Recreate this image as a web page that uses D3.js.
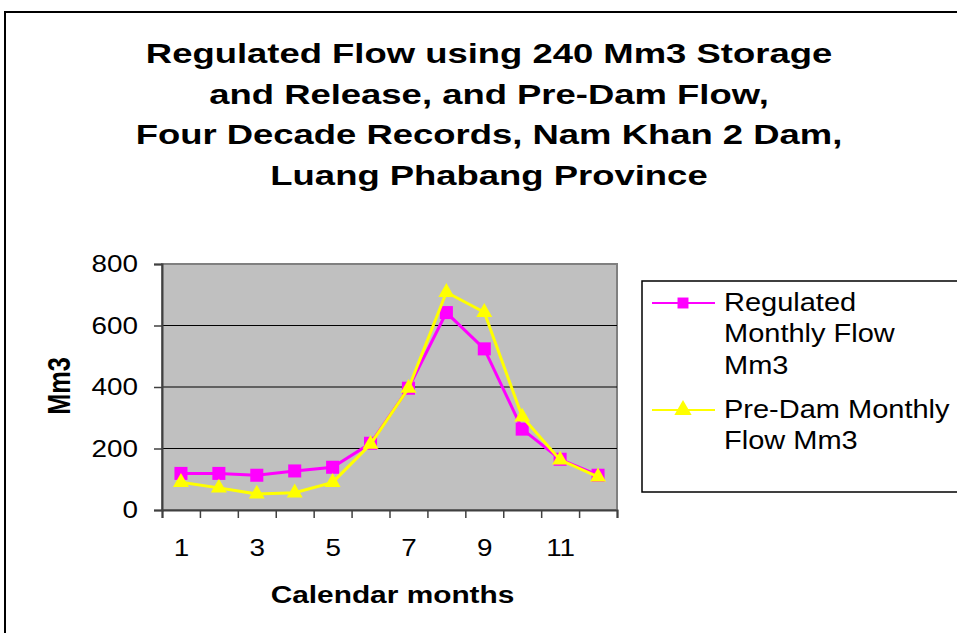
<!DOCTYPE html>
<html>
<head>
<meta charset="utf-8">
<script src="https://cdn.jsdelivr.net/npm/d3@7"></script>
<style>
  body { margin: 0; background: #fff; }
  svg { display: block; font-family: "Liberation Sans", Arial, sans-serif; }
</style>
</head>
<body>
<div class="visContainer"></div>
<script>
// Chart data.
const months = [1, 2, 3, 4, 5, 6, 7, 8, 9, 10, 11, 12];
const regulated = [119, 119, 113, 127, 139, 217, 396, 642, 524, 263, 165, 113];
const preDam = [90, 72, 52, 56, 90, 214, 396, 708, 643, 303, 163, 108];
const yTicks = [0, 200, 400, 600, 800];
const xLabels = [1, 3, 5, 7, 9, 11];
const titleLines = [
    'Regulated Flow using 240 Mm3 Storage',
    'and Release, and Pre-Dam Flow,',
    'Four Decade Records, Nam Khan 2 Dam,',
    'Luang Phabang Province'
];
const series = [
    { name: ['Regulated', 'Monthly Flow', 'Mm3'], values: regulated, color: '#ff00ff', marker: d3.symbolSquare },
    { name: ['Pre-Dam Monthly', 'Flow Mm3'], values: preDam, color: '#ffff00', marker: d3.symbolTriangle }
];

// SVG constants.
const width = 957;
const height = 633;
const plot = { left: 162, right: 617, top: 264, bottom: 510 };
// Text in the original is drawn wider than the font's own metrics.
const boldStretch = 1.35;
const plainStretch = 1.16;

const svg = d3.select('.visContainer')
              .append('svg')
              .attr('width', width)
              .attr('height', height);

// Outer frame.
svg.append('rect')
   .attr('x', 5)
   .attr('y', 12)
   .attr('width', width + 10)
   .attr('height', height + 10)
   .attr('fill', '#fff')
   .attr('stroke', '#000')
   .attr('stroke-width', 2);

// Title.
svg.selectAll('.title')
   .data(titleLines)
   .enter()
   .append('text')
   .attr('class', 'title')
   .attr('transform', (d, i) => 'translate(489,' + (63 + i * 40.5) + ') scale(' + boldStretch + ',1)')
   .attr('text-anchor', 'middle')
   .attr('font-weight', 'bold')
   .attr('font-size', 27)
   .text((d) => d);

// Scales.
const x = d3.scaleLinear().domain([0.5, 12.5]).range([plot.left, plot.right]);
const y = d3.scaleLinear().domain([0, 800]).range([plot.bottom, plot.top]);

// Plot area.
svg.append('rect')
   .attr('x', plot.left)
   .attr('y', plot.top)
   .attr('width', plot.right - plot.left)
   .attr('height', plot.bottom - plot.top)
   .attr('fill', '#c0c0c0')
   .attr('stroke', '#808080')
   .attr('stroke-width', 2);

svg.selectAll('.grid')
   .data(yTicks.filter((d) => d > 0 && d < 800))
   .enter()
   .append('line')
   .attr('class', 'grid')
   .attr('x1', plot.left)
   .attr('x2', plot.right)
   .attr('y1', (d) => y(d))
   .attr('y2', (d) => y(d))
   .attr('stroke', '#000')
   .attr('stroke-width', 1);

// Axes.
const yAxis = svg.append('g')
                 .attr('transform', 'translate(' + plot.left + ',0)')
                 .call(d3.axisLeft(y).tickValues(yTicks).tickSize(8));
yAxis.selectAll('text')
     .attr('font-size', 24)
     .attr('fill', '#000')
     .attr('x', -24 / plainStretch)
     .attr('transform', 'scale(' + plainStretch + ',1)');

const xTicks = d3.range(0.5, 13, 1);
svg.append('g')
   .attr('transform', 'translate(0,' + plot.bottom + ')')
   .call(d3.axisBottom(x).tickValues(xTicks).tickSize(8).tickFormat(''));

const xLab = svg.append('g')
                .attr('transform', 'translate(0,' + plot.bottom + ')')
                .call(d3.axisBottom(x).tickValues(xLabels).tickSize(0));
xLab.select('.domain').remove();
xLab.selectAll('text')
    .attr('font-size', 24)
    .attr('fill', '#000')
    .attr('y', 46.5)
    .attr('dy', 0)
    .attr('transform', 'scale(' + plainStretch + ',1)');

svg.selectAll('.domain').attr('stroke', '#404040').attr('stroke-width', 2);
svg.selectAll('.tick line').attr('stroke', '#404040').attr('stroke-width', 1.5);

// Axis titles.
svg.append('text')
   .attr('transform', 'translate(392.5,603) scale(1.27,1)')
   .attr('text-anchor', 'middle')
   .attr('font-weight', 'bold')
   .attr('font-size', 23.5)
   .text('Calendar months');

svg.append('text')
   .attr('transform', 'translate(70,386) rotate(-90) scale(1.1,1.4)')
   .attr('text-anchor', 'middle')
   .attr('font-weight', 'bold')
   .attr('font-size', 23)
   .text('Mm3');

// Lines and markers.
const line = d3.line()
               .x((d, i) => x(months[i]))
               .y((d) => y(d));

series.forEach((s) => {
    svg.append('path')
       .datum(s.values)
       .attr('d', line)
       .attr('fill', 'none')
       .attr('stroke', s.color)
       .attr('stroke-width', 3);
    svg.selectAll(null)
       .data(s.values)
       .enter()
       .append('path')
       .attr('d', d3.symbol().type(s.marker).size(s.marker === d3.symbolSquare ? 170 : 110))
       .attr('transform', (d, i) => 'translate(' + x(months[i]) + ',' + y(d) + ')')
       .attr('fill', s.color);
});

// Legend.
const legend = svg.append('g');
legend.append('rect')
      .attr('x', 642)
      .attr('y', 281)
      .attr('width', 330)
      .attr('height', 211)
      .attr('fill', '#fff')
      .attr('stroke', '#000')
      .attr('stroke-width', 1.5);

const legendY = [303, 410];
series.forEach((s, k) => {
    const ly = legendY[k];
    legend.append('line')
          .attr('x1', 652)
          .attr('x2', 715)
          .attr('y1', ly)
          .attr('y2', ly)
          .attr('stroke', s.color)
          .attr('stroke-width', 2);
    legend.append('path')
          .attr('d', d3.symbol().type(s.marker).size(s.marker === d3.symbolSquare ? 120 : 130))
          .attr('transform', 'translate(683,' + ly + ')')
          .attr('fill', s.color);
    legend.selectAll(null)
          .data(s.name)
          .enter()
          .append('text')
          .attr('transform', (d, i) => 'translate(724,' + (ly + 7.5 + i * 31.7) + ') scale(' + plainStretch + ',1)')
          .attr('font-size', 25)
          .text((d) => d);
});
</script>
</body>
</html>
